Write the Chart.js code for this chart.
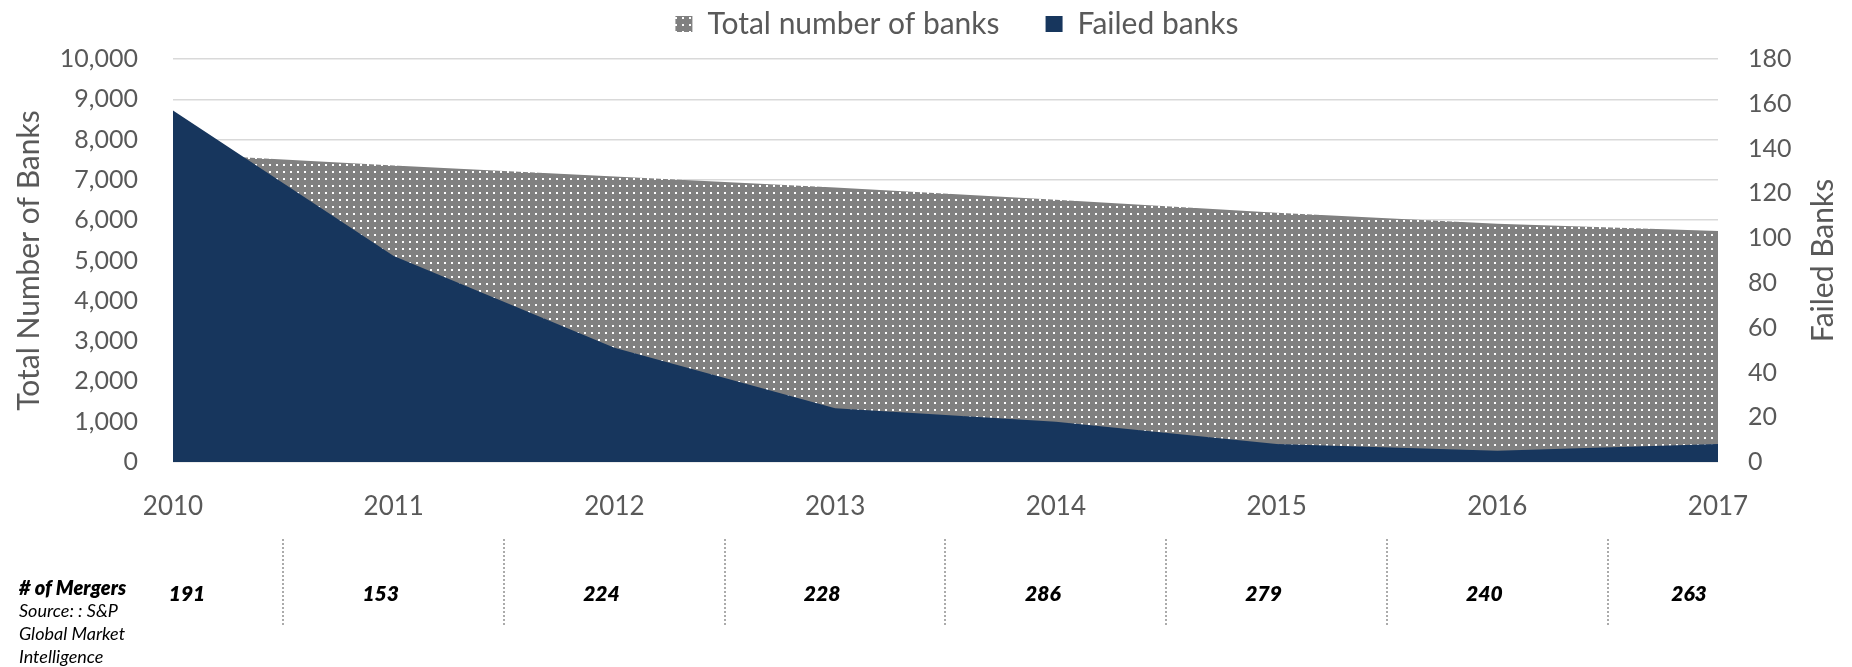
<!DOCTYPE html>
<html>
<head>
<meta charset="utf-8">
<script src="https://cdn.jsdelivr.net/npm/chart.js@4/dist/chart.umd.min.js"></script>
<style>
  html, body { margin: 0; padding: 0; background: #ffffff; }
  #wrap { position: relative; width: 1852px; height: 667px; }
</style>
</head>
<body>
<div id="wrap"><canvas id="c" width="1852" height="667"></canvas></div>
<script>
// ---- Data ----
const years = ['2010', '2011', '2012', '2013', '2014', '2015', '2016', '2017'];
const totalBanks = [7658, 7357, 7083, 6812, 6509, 6182, 5913, 5735];
const failedBanks = [157, 92, 51, 24, 18, 8, 5, 8];
const mergers = [191, 153, 224, 228, 286, 279, 240, 263];
const leftAxisRange = [0, 10000, 1000];   // min, max, step
const rightAxisRange = [0, 180, 20];
const seriesNames = ['Failed banks', 'Total number of banks'];
const axisTitles = ['Total Number of Banks', 'Failed Banks'];
const mergerNotes = ['# of Mergers', 'Source: : S&P', 'Global Market', 'Intelligence'];

// ---- Styles ----
const FONT = 'Lato, "Open Sans", sans-serif';
const TXT = '#595959';
const NAVY = '#17365d';

function makeDots() {
  const c = document.createElement('canvas');
  c.width = 7; c.height = 7;
  const g = c.getContext('2d');
  g.fillStyle = '#808080';
  g.fillRect(0, 0, 7, 7);
  g.fillStyle = '#ffffff';
  g.fillRect(3, 3, 2, 2);
  return g.createPattern(c, 'repeat');
}
const dots = makeDots();

const legendFix = {
  id: 'legendFix',
  beforeInit(chart) {
    const orig = chart.legend.fit;
    chart.legend.fit = function () {
      orig.call(this);
      this.height = 96;
    };
  },
  afterLayout(chart) {
    chart.legend.left += 62;
  }
};

const extras = {
  id: 'extras',
  afterDraw(chart) {
    const ctx = chart.ctx;
    const xs = chart.scales.x;
    const area = chart.chartArea;
    ctx.save();
    // right axis title, reading bottom-to-top
    ctx.save();
    ctx.translate(1823, (area.top + area.bottom) / 2);
    ctx.rotate(-Math.PI / 2);
    ctx.fillStyle = TXT;
    ctx.font = '30px ' + FONT;
    ctx.textAlign = 'center';
    ctx.textBaseline = 'middle';
    ctx.fillText(axisTitles[1], 0, 0);
    ctx.restore();
    // separators
    ctx.strokeStyle = '#ababab';
    ctx.lineWidth = 2;
    ctx.setLineDash([2, 2]);
    for (let i = 0; i < years.length - 1; i++) {
      const x = Math.round((xs.getPixelForValue(i) + xs.getPixelForValue(i + 1)) / 2);
      ctx.beginPath();
      ctx.moveTo(x, 539);
      ctx.lineTo(x, 626);
      ctx.stroke();
    }
    ctx.setLineDash([]);
    // merger counts
    ctx.fillStyle = '#000000';
    ctx.font = 'italic 800 21px ' + FONT;
    ctx.textAlign = 'center';
    ctx.textBaseline = 'middle';
    mergers.forEach((m, i) => {
      let x = xs.getPixelForValue(i) - 13;
      x = Math.max(area.left + 14, Math.min(area.right - 29, x));
      ctx.fillText(String(m), x, 594);
    });
    // notes
    ctx.textAlign = 'left';
    mergerNotes.forEach((t, i) => {
      ctx.font = (i === 0 ? 'italic 800 20px ' : 'italic 400 18px ') + FONT;
      ctx.fillText(t, 19, 589 + i * 22.6);
    });
    ctx.restore();
  }
};

new Chart(document.getElementById('c'), {
  type: 'line',
  data: {
    labels: years,
    datasets: [
      {
        label: seriesNames[0],
        data: failedBanks,
        yAxisID: 'y1',
        backgroundColor: NAVY,
        borderColor: NAVY,
        borderWidth: 0,
        pointRadius: 0,
        fill: 'origin',
        tension: 0
      },
      {
        label: seriesNames[1],
        data: totalBanks,
        yAxisID: 'y',
        backgroundColor: dots,
        borderColor: '#808080',
        borderWidth: 0,
        pointRadius: 0,
        fill: 'origin',
        tension: 0
      }
    ]
  },
  options: {
    responsive: false,
    animation: false,
    events: [],
    layout: { padding: { top: -37, bottom: 145, left: 0, right: 0 } },
    plugins: {
      tooltip: { enabled: false },
      legend: {
        display: true,
        position: 'top',
        reverse: true,
        labels: {
          font: { family: FONT, size: 30 },
          color: TXT,
          boxWidth: 17,
          boxHeight: 16,
          padding: 46
        }
      }
    },
    scales: {
      x: {
        type: 'category',
        offset: false,
        grid: { display: false, drawTicks: false },
        border: { display: false },
        ticks: {
          font: { family: FONT, size: 26 },
          color: TXT,
          padding: 29,
          maxRotation: 0,
          autoSkip: false
        },
        afterFit(s) { s.height = 60; }
      },
      y: {
        position: 'left',
        min: leftAxisRange[0],
        max: leftAxisRange[1],
        ticks: {
          stepSize: leftAxisRange[2],
          font: { family: FONT, size: 25 },
          color: TXT,
          padding: 35
        },
        grid: { color: '#d9d9d9', lineWidth: 1.5, drawTicks: false },
        border: { display: false },
        title: {
          display: true,
          text: axisTitles[0],
          font: { family: FONT, size: 30 },
          color: TXT,
          padding: { top: 11, bottom: 0 }
        },
        afterFit(s) { s.width = 173; }
      },
      y1: {
        position: 'right',
        min: rightAxisRange[0],
        max: rightAxisRange[1],
        ticks: {
          stepSize: rightAxisRange[2],
          font: { family: FONT, size: 25 },
          color: TXT,
          padding: 30
        },
        grid: { display: false, drawTicks: false },
        border: { display: false },
        title: { display: false, text: axisTitles[1] },
        afterFit(s) { s.width = 134; }
      }
    }
  },
  plugins: [legendFix, extras]
});
</script>
</body>
</html>
